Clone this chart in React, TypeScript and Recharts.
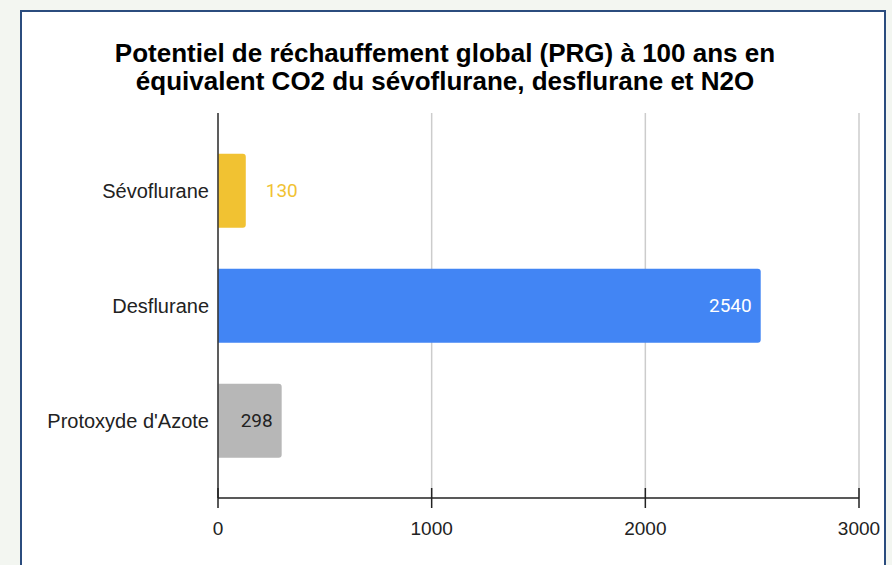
import React from "react";
import {
  BarChart,
  Bar,
  XAxis,
  YAxis,
  CartesianGrid,
  LabelList,
  Cell,
} from "recharts";

const gases = ["Sévoflurane", "Desflurane", "Protoxyde d'Azote"];
const prg100 = [130, 2540, 298];
const xTicks = [0, 1000, 2000, 3000];

const barColors = ["#f1c232", "#4285f4", "#b7b7b7"];
const insideLabelColors = ["#222222", "#ffffff", "#222222"];

const data = gases.map((name, i) => ({ name, value: prg100[i] }));

const FONT = "'Liberation Sans', Arial, sans-serif";
const VALUE_FONT = "Roboto, 'Liberation Sans', Arial, sans-serif";

const XTick = (props: any) => {
  const { x, y, payload } = props;
  return (
    <g>
      <line x1={x} x2={x} y1={y - 10} y2={y + 10} stroke="#222" strokeWidth={1.5} />
      <text
        x={x}
        y={y + 30}
        textAnchor="middle"
        dominantBaseline="central"
        fontFamily={FONT}
        fontSize={19}
        fill="#222"
      >
        {payload.value}
      </text>
    </g>
  );
};

const ValueLabel = (props: any) => {
  const { x, y, width, height, value, index } = props;
  const textW = String(value).length * 19 * 0.562;
  const inside = width > textW + 18;
  return (
    <text
      x={inside ? x + width - 9 : x + width + 20}
      y={y + height / 2}
      textAnchor={inside ? "end" : "start"}
      dominantBaseline="central"
      fontFamily={VALUE_FONT}
      fontSize={19}
      fill={inside ? insideLabelColors[index] : barColors[index]}
    >
      {value}
    </text>
  );
};

export default function App() {
  return (
    <div
      style={{
        position: "fixed",
        left: 0,
        top: 0,
        width: 892,
        height: 565,
        overflow: "hidden",
        background: "#f3f6f1",
      }}
    >
      <div
        style={{
          position: "absolute",
          left: 20,
          top: 10,
          width: 862,
          height: 580,
          background: "#fff",
          border: "2px solid #2b4c7e",
        }}
      />
      <div
        style={{
          position: "absolute",
          left: 0,
          top: 39,
          width: 890,
          textAlign: "center",
          fontFamily: FONT,
          fontWeight: "bold",
          fontSize: 26,
          lineHeight: "28px",
          color: "#000",
        }}
      >
        Potentiel de réchauffement global (PRG) à 100 ans en
        <br />
        équivalent CO2 du sévoflurane, desflurane et N2O
      </div>
      <div style={{ position: "absolute", left: 0, top: 0 }}>
        <BarChart
          width={892}
          height={565}
          data={data}
          layout="vertical"
          margin={{ top: 113, right: 33, left: 18, bottom: 17 }}
          barCategoryGap="18%"
        >
          <CartesianGrid horizontal={false} stroke="#cccccc" strokeWidth={1.5} />
          <XAxis
            type="number"
            domain={[0, 3000]}
            ticks={xTicks}
            interval={0}
            height={50}
            tickSize={0}
            tickMargin={0}
            tickLine={false}
            axisLine={{ stroke: "#222", strokeWidth: 1.5 }}
            tick={<XTick />}
          />
          <YAxis
            type="category"
            dataKey="name"
            width={200}
            padding={{ top: 20, bottom: 20 }}
            tickSize={0}
            tickMargin={9}
            tickLine={false}
            axisLine={{ stroke: "#333", strokeWidth: 1.5 }}
            tick={{ fill: "#222", fontSize: 20, fontFamily: FONT }}
          />
          <Bar dataKey="value" radius={[0, 3, 3, 0]} isAnimationActive={false}>
            {data.map((d, i) => (
              <Cell key={d.name} fill={barColors[i]} />
            ))}
            <LabelList dataKey="value" content={<ValueLabel />} />
          </Bar>
        </BarChart>
      </div>
    </div>
  );
}
